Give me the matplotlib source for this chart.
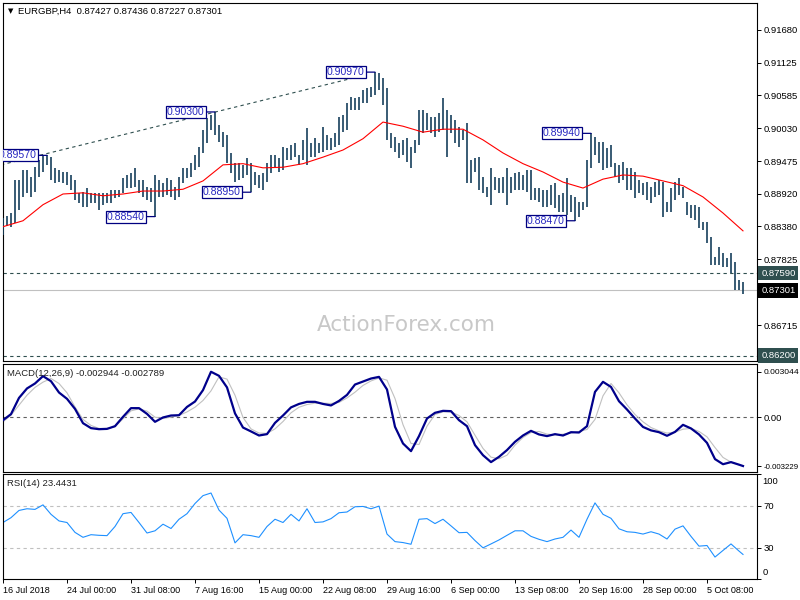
import numpy as np
import matplotlib
matplotlib.use("Agg")
import matplotlib.pyplot as plt
import matplotlib.transforms as mtransforms

plt.rcParams['font.family'] = ['Liberation Sans', 'DejaVu Sans']
plt.rcParams['font.size'] = 6.5

# =========================
# data (EURGBP H4)
# one plotted bar = 2 H4 bars, x unit = H4 bar index
# =========================
bar_high = [
    0.8852, 0.8855, 0.8860, 0.8916, 0.8916, 0.8932, 0.8932, 0.8921, 0.8937, 0.8949,
    0.8958, 0.8957, 0.8954, 0.8936, 0.8932, 0.8929, 0.8929, 0.8924, 0.8916, 0.8894,
    0.8895, 0.8902, 0.8894, 0.8894, 0.8894, 0.8894, 0.8894, 0.8899, 0.8899, 0.8899,
    0.8919, 0.8924, 0.8927, 0.8936, 0.8916, 0.8916, 0.8904, 0.8902, 0.8924, 0.8916,
    0.8911, 0.8919, 0.8916, 0.8904, 0.8921, 0.8936, 0.8936, 0.8944, 0.8958, 0.8971,
    0.9000, 0.9020, 0.9025, 0.9030, 0.9008, 0.8996, 0.8991, 0.8961, 0.8944, 0.8944,
    0.8941, 0.8953, 0.8944, 0.8929, 0.8924, 0.8927, 0.8944, 0.8958, 0.8958, 0.8953,
    0.8971, 0.8969, 0.8974, 0.8978, 0.8958, 0.8983, 0.9003, 0.8978, 0.8986, 0.8978,
    0.9005, 0.8991, 0.8986, 0.8995, 0.9022, 0.9025, 0.9045, 0.9055, 0.9054, 0.9055,
    0.9067, 0.9070, 0.9072, 0.9097, 0.9096, 0.9087, 0.9070, 0.8995, 0.8988, 0.8978,
    0.8983, 0.8986, 0.8971, 0.8983, 0.9033, 0.9033, 0.9028, 0.9022, 0.9022, 0.9028,
    0.9054, 0.9033, 0.9025, 0.9017, 0.9005, 0.9000, 0.9011, 0.8949, 0.8953, 0.8954,
    0.8921, 0.8904, 0.8936, 0.8921, 0.8919, 0.8921, 0.8936, 0.8921, 0.8927, 0.8929,
    0.8924, 0.8932, 0.8932, 0.8902, 0.8902, 0.8899, 0.8899, 0.8907, 0.8911, 0.8890,
    0.8894, 0.8919, 0.8890, 0.8887, 0.8879, 0.8879, 0.8949, 0.8994, 0.8988, 0.8980,
    0.8980, 0.8969, 0.8974, 0.8944, 0.8941, 0.8946, 0.8936, 0.8936, 0.8929, 0.8916,
    0.8911, 0.8912, 0.8904, 0.8912, 0.8916, 0.8912, 0.8879, 0.8902, 0.8912, 0.8919,
    0.8904, 0.8879, 0.8874, 0.8874, 0.8870, 0.8845, 0.8845, 0.8820, 0.8786, 0.8803,
    0.8793, 0.8784, 0.8793, 0.8778, 0.8747, 0.8744,
]
bar_low = [
    0.8823, 0.8838, 0.8837, 0.8843, 0.8865, 0.8887, 0.8894, 0.8887, 0.8895, 0.8921,
    0.8929, 0.8941, 0.8916, 0.8911, 0.8912, 0.8911, 0.8907, 0.8899, 0.8882, 0.8877,
    0.8870, 0.8870, 0.8877, 0.8877, 0.8865, 0.8874, 0.8877, 0.8877, 0.8885, 0.8887,
    0.8894, 0.8902, 0.8902, 0.8904, 0.8894, 0.8887, 0.8882, 0.8879, 0.8854, 0.8887,
    0.8887, 0.8890, 0.8887, 0.8882, 0.8887, 0.8911, 0.8919, 0.8921, 0.8932, 0.8937,
    0.8961, 0.8978, 0.9000, 0.8991, 0.8980, 0.8971, 0.8944, 0.8927, 0.8912, 0.8916,
    0.8919, 0.8924, 0.8895, 0.8907, 0.8902, 0.8899, 0.8912, 0.8927, 0.8936, 0.8929,
    0.8932, 0.8949, 0.8949, 0.8954, 0.8941, 0.8949, 0.8941, 0.8954, 0.8954, 0.8961,
    0.8963, 0.8966, 0.8966, 0.8971, 0.8974, 0.8996, 0.9000, 0.9033, 0.9033, 0.9033,
    0.9045, 0.9045, 0.9055, 0.9059, 0.9067, 0.9042, 0.8983, 0.8969, 0.8963, 0.8953,
    0.8958, 0.8946, 0.8936, 0.8961, 0.8974, 0.8995, 0.9000, 0.8995, 0.8988, 0.8996,
    0.9000, 0.8954, 0.8995, 0.8978, 0.8971, 0.8983, 0.8911, 0.8911, 0.8929, 0.8899,
    0.8894, 0.8887, 0.8874, 0.8899, 0.8894, 0.8894, 0.8874, 0.8894, 0.8899, 0.8899,
    0.8899, 0.8895, 0.8882, 0.8882, 0.8879, 0.8870, 0.8870, 0.8874, 0.8869, 0.8862,
    0.8862, 0.8857, 0.8862, 0.8847, 0.8853, 0.8865, 0.8870, 0.8936, 0.8958, 0.8944,
    0.8932, 0.8936, 0.8937, 0.8921, 0.8911, 0.8916, 0.8899, 0.8899, 0.8885, 0.8894,
    0.8890, 0.8882, 0.8877, 0.8887, 0.8890, 0.8853, 0.8862, 0.8862, 0.8882, 0.8890,
    0.8885, 0.8857, 0.8852, 0.8848, 0.8835, 0.8832, 0.8810, 0.8773, 0.8773, 0.8773,
    0.8769, 0.8769, 0.8759, 0.8731, 0.8731, 0.8723,
]

# moving average, one value every 10 H4 bars
ma_values = [
    0.8837, 0.8847, 0.8874, 0.8892, 0.8894, 0.8889, 0.8892, 0.8897, 0.8897, 0.8900,
    0.8914, 0.8941, 0.8943, 0.8936, 0.8937, 0.8943, 0.8954, 0.8966, 0.8985, 0.9013,
    0.9006, 0.8996, 0.9001, 0.9001, 0.8983, 0.8961, 0.8943, 0.8929, 0.8912, 0.8902,
    0.8917, 0.8924, 0.8922, 0.8914, 0.8906, 0.8887, 0.8860, 0.8830,
]

# indicators, one value every 4 H4 bars + last bar
macd_main = [
    -0.00018, 0.00022, 0.00130, 0.00193, 0.00226, 0.00275, 0.00241, 0.00166, 0.00124, 0.00057,
    -0.00038, -0.00071, -0.00078, -0.00076, -0.00058, 0.00004, 0.00062, 0.00062, 0.00024, -0.00029,
    0.00000, 0.00013, 0.00015, 0.00070, 0.00106, 0.00182, 0.00304, 0.00277, 0.00200, 0.00027,
    -0.00067, -0.00093, -0.00120, -0.00111, -0.00036, 0.00013, 0.00067, 0.00090, 0.00104, 0.00104,
    0.00090, 0.00080, 0.00110, 0.00150, 0.00219, 0.00239, 0.00259, 0.00270, 0.00186, -0.00062,
    -0.00173, -0.00224, -0.00124, -0.00007, 0.00031, 0.00044, 0.00042, -0.00018, -0.00058, -0.00184,
    -0.00251, -0.00297, -0.00262, -0.00217, -0.00162, -0.00120, -0.00089, -0.00113, -0.00124, -0.00111,
    -0.00120, -0.00098, -0.00100, -0.00058, 0.00170, 0.00237, 0.00203, 0.00108, 0.00053, -0.00007,
    -0.00063, -0.00086, -0.00098, -0.00122, -0.00096, -0.00049, -0.00073, -0.00113, -0.00169, -0.00277,
    -0.00311, -0.00297, -0.00314, -0.00323,
]
macd_signal = [
    -0.00029, 0.00015, 0.00082, 0.00148, 0.00200, 0.00235, 0.00259, 0.00226, 0.00164, 0.00070,
    -0.00013, -0.00053, -0.00073, -0.00073, -0.00062, -0.00009, 0.00044, 0.00057, 0.00042, 0.00002,
    -0.00007, 0.00002, 0.00013, 0.00037, 0.00068, 0.00113, 0.00177, 0.00270, 0.00255, 0.00148,
    0.00000, -0.00076, -0.00104, -0.00106, -0.00076, -0.00027, 0.00031, 0.00068, 0.00086, 0.00095,
    0.00095, 0.00093, 0.00100, 0.00130, 0.00168, 0.00213, 0.00243, 0.00263, 0.00248, 0.00126,
    -0.00048, -0.00173, -0.00180, -0.00058, 0.00020, 0.00037, 0.00037, 0.00013, -0.00029, -0.00118,
    -0.00206, -0.00264, -0.00275, -0.00251, -0.00184, -0.00133, -0.00100, -0.00093, -0.00111, -0.00116,
    -0.00111, -0.00104, -0.00093, -0.00080, -0.00013, 0.00144, 0.00226, 0.00164, 0.00084, 0.00020,
    -0.00029, -0.00067, -0.00089, -0.00104, -0.00098, -0.00078, -0.00073, -0.00093, -0.00129, -0.00200,
    -0.00266, -0.00297, -0.00315, -0.00321,
]
rsi_values = [
    53.8, 58.4, 65.3, 66.9, 66.3, 70.6, 61.6, 55.3, 53.8, 44.4,
    39.7, 42.2, 41.6, 41.3, 50.0, 62.2, 63.4, 53.8, 43.8, 45.9,
    52.2, 48.1, 56.9, 62.2, 71.9, 79.4, 81.9, 65.6, 57.8, 34.4,
    42.2, 41.3, 39.7, 50.0, 56.9, 53.8, 61.6, 55.3, 66.9, 53.8,
    54.4, 57.5, 63.1, 63.8, 68.8, 69.1, 66.9, 69.4, 42.8, 35.6,
    34.7, 33.1, 56.9, 57.5, 52.8, 56.9, 50.6, 44.1, 44.4, 36.6,
    29.7, 33.4, 37.2, 41.6, 45.9, 45.9, 40.6, 37.8, 35.6, 38.1,
    39.7, 46.6, 39.7, 56.9, 72.5, 61.6, 57.8, 47.8, 45.0, 44.4,
    42.8, 45.0, 42.8, 38.1, 47.5, 50.6, 40.6, 31.3, 31.9, 20.9,
    27.2, 33.4, 26.6, 23.4,
]

# swing high / low labels
swing_price = [0.89570, 0.88540, 0.90300, 0.88950, 0.90970, 0.89940, 0.88470]
swing_bar = [22, 76, 106, 124, 186, 294, 286]

# trend line through the highs (H4 index, price)
trend_x = [-1, 181]
trend_y = [0.8941, 0.9092]

support_level = 0.87590
last_price = 0.87301
low_level = 0.86200

price_ticks = [0.91680, 0.91125, 0.90585, 0.90030, 0.89475, 0.88920, 0.88380, 0.87825, 0.86715]
macd_ticks = [0.003044, 0.0, -0.003229]
macd_tick_labels = ['0.003044', '0.00', '-0.003229']

date_pos = [0, 32, 64, 96, 128, 160, 192, 224, 256, 288, 320, 352]
date_labels = ['16 Jul 2018', '24 Jul 00:00', '31 Jul 08:00', '7 Aug 16:00', '15 Aug 00:00',
               '22 Aug 08:00', '29 Aug 16:00', '6 Sep 00:00', '13 Sep 08:00', '20 Sep 16:00',
               '28 Sep 00:00', '5 Oct 08:00']

# =========================
# styles
# =========================
BAR_C = '#163F5C'
LEVEL_C = '#2F4F4F'
LABEL_TXT = '#2828C0'
LABEL_EDGE = '#000080'
DASH = (0, (3, 3))
FS = 6.5
FS_AX = 6.8

fig = plt.figure(figsize=(8, 6), dpi=100)
ax = fig.add_axes([0.003125, 0.398333, 0.943125, 0.5975])
ax_macd = fig.add_axes([0.003125, 0.21283, 0.943125, 0.1805])
ax_rsi = fig.add_axes([0.003125, 0.035, 0.943125, 0.175])

for a in (ax, ax_macd, ax_rsi):
    a.set_xlim(-0.25, 377)
    a.yaxis.tick_right()
    a.tick_params(axis='y', direction='out', length=3, width=0.7, pad=1.8, labelsize=FS_AX)
    a.tick_params(axis='x', bottom=False, labelbottom=False)
    for s in a.spines.values():
        s.set_linewidth(0.8)

# =========================
# price panel
# =========================
bar_x = np.arange(len(bar_high)) * 2
ax.vlines(bar_x, bar_low, bar_high, color=BAR_C, lw=1.2, zorder=3)

ma_x = np.arange(len(ma_values)) * 10
ax.plot(ma_x, ma_values, color='#FF0000', lw=0.8, zorder=4)

ax.plot(trend_x, trend_y, color=LEVEL_C, lw=0.8, ls=DASH, zorder=2)
ax.axhline(support_level, color=LEVEL_C, lw=0.8, ls=DASH, zorder=2)
ax.axhline(low_level, color=LEVEL_C, lw=0.8, ls=DASH, zorder=2)
ax.axhline(last_price, color='#C0C0C0', lw=0.8, zorder=1)

ax.set_ylim(0.86111, 0.92141)
ax.set_yticks(price_ticks)
ax.set_yticklabels(['%.5f' % p for p in price_ticks])

for p, b in zip(swing_price, swing_bar):
    ax.annotate('%.5f' % p, xy=(b, p), xytext=(-7.5, 0), textcoords='offset points',
                ha='right', va='center', color=LABEL_TXT, fontsize=7.6, zorder=6,
                bbox=dict(boxstyle='square,pad=0.1', fc='white', ec=LABEL_EDGE, lw=0.9),
                arrowprops=dict(arrowstyle='-', color=LABEL_EDGE, lw=0.9,
                                shrinkA=0, shrinkB=0),
                annotation_clip=False, clip_on=True)

trans = mtransforms.blended_transform_factory(ax.transAxes, ax.transData)
for lvl, fc in [(support_level, LEVEL_C), (last_price, '#000000'), (low_level, LEVEL_C)]:
    ax.text(1.0055, lvl, '%.5f' % lvl, transform=trans, ha='left', va='center',
            color='white', fontsize=FS_AX, clip_on=False, zorder=7,
            bbox=dict(boxstyle='square,pad=0.3', fc=fc, ec='none'))

ax.text(0.5355, 0.1, 'ActionForex.com', transform=ax.transAxes, ha='center', va='center',
        fontsize=15.5, family='DejaVu Sans', color='#C8C8C8', zorder=0)

fig.text(8 / 800, 1 - 11 / 600, '\u25BC', fontsize=5, family='DejaVu Sans',
         va='center', color='black')
fig.text(18 / 800, 1 - 11 / 600, 'EURGBP,H4  0.87427 0.87436 0.87227 0.87301',
         fontsize=FS_AX, va='center', color='black')

# =========================
# MACD panel
# =========================
ind_x = np.r_[np.arange(0, 369, 4), 370]
ax_macd.axhline(0, color='#606060', lw=0.8, ls=DASH, zorder=1)
ax_macd.plot(ind_x, macd_signal, color='#C0C0C0', lw=0.8, zorder=2)
ax_macd.plot(ind_x, macd_main, color='#00008B', lw=1.6, zorder=3)
ax_macd.set_ylim(-0.003648, 0.003556)
ax_macd.set_yticks(macd_ticks)
ax_macd.set_yticklabels(macd_tick_labels)
macd_labs = ax_macd.get_yticklabels()
macd_labs[0].set_fontsize(6.1)
macd_labs[2].set_fontsize(5.7)
fig.text(7 / 800, 1 - 373 / 600, 'MACD(12,26,9) -0.002944 -0.002789',
         fontsize=FS_AX, va='center', color='#202020')

# =========================
# RSI panel
# =========================
ax_rsi.axhline(70, color='#C0C0C0', lw=0.8, ls=DASH, zorder=1)
ax_rsi.axhline(30, color='#C0C0C0', lw=0.8, ls=DASH, zorder=1)
ax_rsi.plot(ind_x, rsi_values, color='#1E90FF', lw=0.8, zorder=2)
ax_rsi.set_ylim(0, 100)
ax_rsi.set_yticks([0, 30, 70, 100])
ax_rsi.set_yticklabels(['', '30', '70', ''])
trans_r = mtransforms.blended_transform_factory(ax_rsi.transAxes, ax_rsi.transData)
ax_rsi.text(1.0068, 92.7, '100', transform=trans_r, ha='left', va='center',
            fontsize=FS_AX, clip_on=False)
ax_rsi.text(1.0068, 6.4, '0', transform=trans_r, ha='left', va='center',
            fontsize=FS_AX, clip_on=False)
fig.text(7 / 800, 1 - 484 / 600, 'RSI(14) 23.4431', fontsize=FS_AX, va='center', color='#202020')

ax_rsi.set_xticks(date_pos)
ax_rsi.set_xticklabels(date_labels)
ax_rsi.tick_params(axis='x', bottom=True, labelbottom=True, direction='out',
                   length=3, width=0.7, pad=2, labelsize=FS)
for lab in ax_rsi.get_xticklabels():
    lab.set_ha('left')

fig.savefig('out.png', dpi=100)
